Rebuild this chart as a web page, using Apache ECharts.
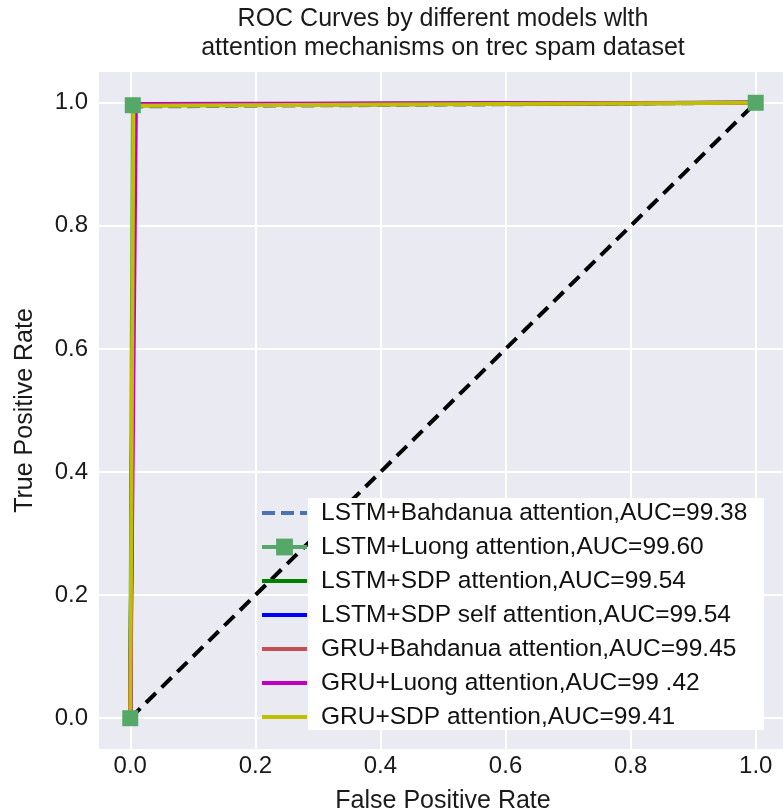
<!DOCTYPE html>
<html>
<head>
<meta charset="utf-8">
<title>ROC Curves</title>
<script src="https://cdn.jsdelivr.net/npm/echarts@6/dist/echarts.min.js"></script>
<style>
  html, body { margin: 0; padding: 0; background: #fff; }
  #chart { width: 783px; height: 811px; }
</style>
</head>
<body>
<div id="chart"></div>
<script>
// tick values on both axes
const tickValues = [0, 0.2, 0.4, 0.6, 0.8, 1.0];

// legend names, one per model
const modelNames = [
  "LSTM+Bahdanua attention,AUC=99.38",
  "LSTM+Luong attention,AUC=99.60",
  "LSTM+SDP attention,AUC=99.54",
  "LSTM+SDP self attention,AUC=99.54",
  "GRU+Bahdanua attention,AUC=99.45",
  "GRU+Luong attention,AUC=99 .42",
  "GRU+SDP attention,AUC=99.41",
];

// ROC points [fpr, tpr]
const lstmBahdanua = [[0, 0], [0.006, 0.994], [1, 1]];
const lstmLuong = [[0, 0], [0.004, 0.996], [1, 1]];
const lstmSdp = [[0, 0], [0.006, 0.997], [1, 1]];
const lstmSdpSelf = [[0, 0], [0.006, 0.997], [1, 1]];
const gruBahdanua = [[0, 0], [0.007, 0.996], [1, 1]];
const gruLuong = [[0, 0], [0.009, 0.998], [1, 1]];
const gruSdp = [[0, 0], [0.005, 0.995], [1, 1]];
const chance = [[0, 0], [1, 1]];

const chart = echarts.init(document.getElementById("chart"));

const font = "Liberation Sans, Arial, sans-serif";

function rocLine(name, data, color, extra) {
  return Object.assign({
    name: name,
    type: "line",
    data: data,
    symbol: "none",
    color: color,
    lineStyle: { width: 4, color: color },
    animation: false,
  }, extra || {});
}

function valueAxis(name, nameGap, labelMargin) {
  return {
    type: "value",
    min: -0.05,
    max: 1.05,
    name: name,
    nameLocation: "middle",
    nameGap: nameGap,
    nameTextStyle: { fontSize: 25, fontFamily: font, color: "#1a1a1a" },
    axisLine: { show: false },
    axisTick: { show: false, customValues: tickValues },
    axisLabel: {
      customValues: tickValues,
      fontSize: 24,
      fontFamily: font,
      color: "#1a1a1a",
      margin: labelMargin,
      formatter: (v) => v.toFixed(1),
    },
    splitLine: { show: true, lineStyle: { color: "#ffffff", width: 2 } },
  };
}

// legend entries; only the Luong model keeps its square marker in the legend
const legendData = modelNames.map((n, i) =>
  i === 1 ? { name: n } : { name: n, itemStyle: { opacity: 0 } }
);

const option = {
  backgroundColor: "#ffffff",
  animation: false,
  grid: {
    left: 99,
    right: -4,
    top: 72,
    bottom: 62,
    outerBoundsMode: "none",
    show: true,
    backgroundColor: "#EAEAF2",
    borderWidth: 0,
  },
  graphic: [
    {
      type: "text",
      x: 443,
      y: 5,
      style: {
        text: "ROC Curves by different models wlth\nattention mechanisms on trec spam dataset",
        align: "center",
        fontSize: 25,
        lineHeight: 29,
        fontFamily: font,
        fill: "#1a1a1a",
      },
    },
    {
      // white box behind the legend labels
      type: "rect",
      z: 5,
      shape: { x: 308, y: 498, width: 456, height: 232 },
      style: { fill: "#ffffff" },
    },
  ],
  xAxis: valueAxis("False Positive Rate", 40, 5),
  yAxis: valueAxis("True Positive Rate", 61, 11),
  legend: {
    data: legendData,
    orient: "vertical",
    left: 255,
    top: 491,
    itemWidth: 45,
    itemHeight: 21,
    itemGap: 0,
    z: 6,
    lineStyle: { width: 4 },
    textStyle: {
      fontSize: 24.5,
      fontFamily: font,
      color: "#111",
      lineHeight: 34,
      padding: [0, 0, 0, 9],
    },
    selectedMode: false,
  },
  series: [
    {
      name: "chance",
      type: "line",
      data: chance,
      symbol: "none",
      lineStyle: { color: "#000", width: 4, type: [14, 8] },
      animation: false,
    },
    rocLine(modelNames[0], lstmBahdanua, "#4C72B0", {
      lineStyle: { width: 4, color: "#4C72B0", type: [13, 6] },
    }),
    rocLine(modelNames[1], lstmLuong, "#55A868", {
      symbol: "rect",
      symbolSize: 16,
      itemStyle: { color: "#55A868" },
    }),
    rocLine(modelNames[2], lstmSdp, "#008000"),
    rocLine(modelNames[3], lstmSdpSelf, "#0000FF"),
    rocLine(modelNames[4], gruBahdanua, "#C44E52"),
    rocLine(modelNames[5], gruLuong, "#BF00BF"),
    rocLine(modelNames[6], gruSdp, "#BFBF00"),
  ],
};

chart.setOption(option);
</script>
</body>
</html>
